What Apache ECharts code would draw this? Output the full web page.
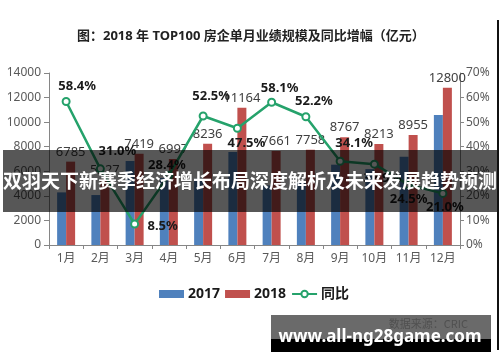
<!DOCTYPE html>
<html>
<head>
<meta charset="utf-8">
<script src="https://cdn.jsdelivr.net/npm/echarts@6/dist/echarts.min.js"></script>
<style>
html,body{margin:0;padding:0;background:#fff;}
#chart{width:500px;height:362px;}
</style>
</head>
<body>
<div id="chart"></div>
<script>
const months = ['1月','2月','3月','4月','5月','6月','7月','8月','9月','10月','11月','12月'];
const sales2017 = [4283, 4066, 6838, 5449, 5401, 7569, 4846, 5097, 6538, 6175, 7193, 10579];
const sales2018 = [6785, 5327, 7419, 6997, 8236, 11164, 7661, 7758, 8767, 8213, 8955, 12800];
const growth = [58.4, 31.0, 8.5, 28.4, 52.5, 47.5, 58.1, 52.2, 34.1, 32.9, 24.5, 21.0];
const leftTicks = {min: 0, max: 14000, step: 2000};
const rightTicks = {min: 0, max: 70, step: 10};
const seriesNames = ['2017', '2018', '同比'];

// label offsets (styling only) for growth labels
const growthLabelOffsets = [[11,-15],[17,-18],[28,2],[-2,-10],[8,-20],[9,15],[8,-14],[8,-15],[14,-18],[8,14],[0,14],[2,14]];

const FONT = '"Noto Sans", "Noto Sans CJK SC", sans-serif';
const GREEN = '#25a26b';

const chart = echarts.init(document.getElementById('chart'), null, {renderer: 'canvas'});

const growthData = growth.map((v, i) => ({
  value: v,
  label: {offset: growthLabelOffsets[i]}
}));

chart.setOption({
  animation: false,
  backgroundColor: '#ffffff',
  title: {
    text: '图：2018 年 TOP100 房企单月业绩规模及同比增幅（亿元）',
    left: 72, top: 25,
    textStyle: {fontFamily: FONT, fontSize: 13, fontWeight: 'bold', color: '#222'}
  },
  grid: {left: 49, right: 40, top: 73, bottom: 117, containLabel: false},
  legend: {
    data: [
      {name: seriesNames[0], icon: 'rect'},
      {name: seriesNames[1], icon: 'rect'},
      {name: seriesNames[2]}
    ],
    left: 154, top: 282,
    itemWidth: 25, itemHeight: 8, itemGap: 5,
    textStyle: {fontFamily: FONT, fontSize: 14, fontWeight: 'bold', color: '#1a1a1a', padding: [0,0,0,-1]}
  },
  xAxis: {
    type: 'category',
    data: months,
    axisLine: {lineStyle: {color: '#868686', width: 1}},
    axisTick: {show: true, length: 4, lineStyle: {color: '#868686'}},
    axisLabel: {fontFamily: FONT, fontSize: 12, color: '#595959', margin: 8}
  },
  yAxis: [
    {
      type: 'value', min: leftTicks.min, max: leftTicks.max, interval: leftTicks.step,
      axisLine: {show: true, lineStyle: {color: '#868686'}},
      axisTick: {show: true, length: 5, lineStyle: {color: '#868686'}},
      splitLine: {show: false},
      axisLabel: {fontFamily: FONT, fontSize: 12, color: '#595959', margin: 8, formatter: v => String(v)}
    },
    {
      type: 'value', position: 'right', min: rightTicks.min, max: rightTicks.max, interval: rightTicks.step,
      axisLine: {show: true, lineStyle: {color: '#868686'}},
      axisTick: {show: true, length: 4, lineStyle: {color: '#868686'}},
      splitLine: {show: false},
      axisLabel: {fontFamily: FONT, fontSize: 12, color: '#595959', margin: 6, formatter: '{value}%'}
    }
  ],
  series: [
    {
      name: seriesNames[0], type: 'bar', data: sales2017,
      barWidth: 9, barGap: '0%',
      itemStyle: {color: '#4f81bd'}
    },
    {
      name: seriesNames[1], type: 'bar', data: sales2018,
      barWidth: 9,
      itemStyle: {color: '#c0504d'},
      label: {show: true, position: 'top', distance: 3, fontFamily: FONT, fontSize: 13, color: '#404040', formatter: p => String(p.value)}
    },
    {
      name: seriesNames[2], type: 'line', yAxisIndex: 1, data: growthData,
      symbol: 'emptyCircle', symbolSize: 7,
      lineStyle: {color: GREEN, width: 2.5},
      itemStyle: {color: GREEN, borderWidth: 2},
      label: {
        show: true, position: 'inside',
        fontFamily: FONT, fontSize: 13, fontWeight: 'bold', color: '#1a1a1a',
        formatter: p => p.value.toFixed(1) + '%'
      },
      z: 5
    }
  ],
  graphic: [
    {type: 'rect', z: 100, shape: {x: 3, y: 150, width: 494, height: 62}, style: {fill: 'rgba(0,0,0,0.66)'}},
    {type: 'text', z: 101, x: 250, y: 181, style: {
      text: '双羽天下新赛季经济增长布局深度解析及未来发展趋势预测',
      font: 'bold 19px "Noto Sans CJK SC", sans-serif', fill: '#ffffff', align: 'center', verticalAlign: 'middle'}},
    {type: 'rect', z: 100, shape: {x: 271, y: 315, width: 220, height: 24}, style: {fill: '#6a6a6a'}},
    {type: 'text', z: 101, x: 468, y: 324, style: {
      text: '数据来源：CRIC', font: '11px "Noto Sans CJK SC", sans-serif', fill: '#505050', align: 'right', verticalAlign: 'middle'}},
    {type: 'rect', z: 100, shape: {x: 271, y: 339, width: 220, height: 13}, style: {fill: '#000000'}},
    {type: 'text', z: 102, x: 380, y: 337, style: {
      text: 'www.all-ng28game.com', font: 'bold 17px "Noto Sans", sans-serif', fill: '#ffffff', align: 'center', verticalAlign: 'middle'}},
    {type: 'rect', z: 100, shape: {x: 497, y: 20, width: 2, height: 330}, style: {fill: '#111111'}}
  ]
});
</script>
</body>
</html>
